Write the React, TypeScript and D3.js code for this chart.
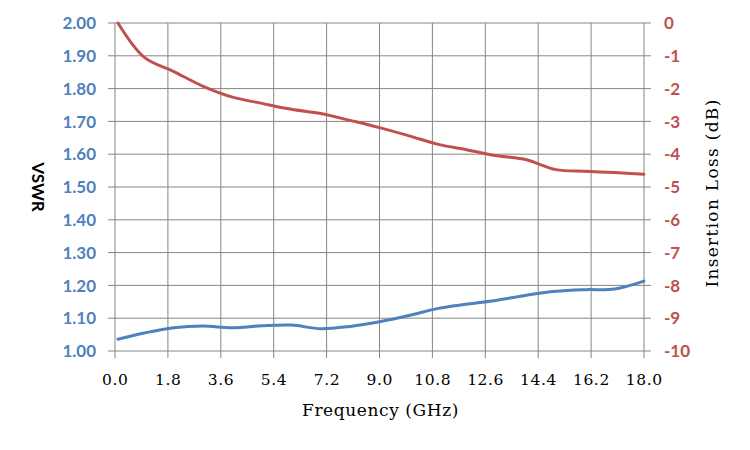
import React, { useEffect, useRef } from 'react';
import * as d3 from 'd3';

// frequency samples (GHz)
const freqs = [0.1, 1, 2, 3, 4, 5, 6, 7, 8, 9, 10, 11, 12, 13, 14, 15, 16, 17, 18];
const vswr = [1.036, 1.055, 1.071, 1.076, 1.071, 1.077, 1.079, 1.068, 1.075, 1.089, 1.108, 1.13, 1.143, 1.155, 1.17, 1.182, 1.187, 1.189, 1.213];
const insertionLoss = [0, -1.05, -1.48, -1.93, -2.26, -2.45, -2.63, -2.76, -2.97, -3.19, -3.44, -3.7, -3.87, -4.05, -4.17, -4.47, -4.52, -4.56, -4.61];

const xTicks = [0, 1.8, 3.6, 5.4, 7.2, 9.0, 10.8, 12.6, 14.4, 16.2, 18.0];
const vswrTicks = [1.0, 1.1, 1.2, 1.3, 1.4, 1.5, 1.6, 1.7, 1.8, 1.9, 2.0];
const lossTicks = [0, -1, -2, -3, -4, -5, -6, -7, -8, -9, -10];

const BLUE = '#4F81BD';
const RED = '#C0504D';
const GRID = '#868686';
const SERIF = '"DejaVu Serif", serif';
const BOLD = 'Lato, "Open Sans", sans-serif';

export default function App() {
  const svgRef = useRef<SVGSVGElement>(null);
  const width = 750;
  const height = 450;

  useEffect(() => {
    if (!svgRef.current) return;
    const svg = d3.select(svgRef.current);
    svg.selectAll('*').remove();

    const left = 115, right = 644, top = 23, bottom = 351;

    const x = d3.scaleLinear().domain([0, 18]).range([left, right]);
    const yL = d3.scaleLinear().domain([1, 2]).range([bottom, top]);
    const yR = d3.scaleLinear().domain([-10, 0]).range([bottom, top]);

    // grid
    svg.append('g')
      .selectAll('line')
      .data(xTicks)
      .enter()
      .append('line')
      .attr('x1', d => x(d))
      .attr('x2', d => x(d))
      .attr('y1', top)
      .attr('y2', bottom + 7)
      .attr('stroke', GRID)
      .attr('stroke-width', 1);

    svg.append('g')
      .selectAll('line')
      .data(vswrTicks)
      .enter()
      .append('line')
      .attr('x1', left - 7)
      .attr('x2', right + 7)
      .attr('y1', d => yL(d))
      .attr('y2', d => yL(d))
      .attr('stroke', GRID)
      .attr('stroke-width', 1);

    // tick labels
    svg.append('g')
      .selectAll('text')
      .data(xTicks)
      .enter()
      .append('text')
      .attr('x', d => x(d) + 0.3)
      .attr('y', 385)
      .attr('text-anchor', 'middle')
      .style('font-family', SERIF)
      .style('font-size', '15.5px')
      .style('letter-spacing', '0.6px')
      .attr('fill', '#000')
      .text(d => d.toFixed(1));

    svg.append('g')
      .selectAll('text')
      .data(vswrTicks)
      .enter()
      .append('text')
      .attr('x', 96)
      .attr('y', d => yL(d))
      .attr('dy', '0.36em')
      .attr('text-anchor', 'end')
      .style('font-family', BOLD)
      .style('font-weight', 'bold')
      .style('font-size', '17px')
      .attr('fill', BLUE)
      .text(d => d.toFixed(2));

    svg.append('g')
      .selectAll('text')
      .data(lossTicks)
      .enter()
      .append('text')
      .attr('x', 664)
      .attr('y', d => yR(d))
      .attr('dy', '0.36em')
      .attr('text-anchor', 'start')
      .style('font-family', BOLD)
      .style('font-weight', 'bold')
      .style('font-size', '17px')
      .attr('fill', RED)
      .text(d => String(d));

    // axis titles
    svg.append('text')
      .attr('x', (left + right) / 2 + 1)
      .attr('y', 416)
      .attr('text-anchor', 'middle')
      .style('font-family', SERIF)
      .style('font-size', '17px')
      .style('letter-spacing', '0.6px')
      .text('Frequency (GHz)');

    svg.append('text')
      .attr('transform', `translate(32,${(top + bottom) / 2}) rotate(90)`)
      .attr('text-anchor', 'middle')
      .style('font-family', BOLD)
      .style('font-weight', 'bold')
      .style('font-size', '17px')
      .text('VSWR');

    svg.append('text')
      .attr('transform', `translate(718,${(top + bottom) / 2 + 6}) rotate(-90)`)
      .attr('text-anchor', 'middle')
      .style('font-family', SERIF)
      .style('font-size', '17px')
      .style('letter-spacing', '1.3px')
      .text('Insertion Loss (dB)');

    // series
    const curve = d3.curveCatmullRom.alpha(0.5);

    const vswrLine = d3.line<number>()
      .x((_, i) => x(freqs[i]))
      .y(d => yL(d))
      .curve(curve);

    const lossLine = d3.line<number>()
      .x((_, i) => x(freqs[i]))
      .y(d => yR(d))
      .curve(curve);

    svg.append('path')
      .datum(vswr)
      .attr('d', vswrLine)
      .attr('fill', 'none')
      .attr('stroke', BLUE)
      .attr('stroke-width', 3)
      .attr('stroke-linecap', 'round');

    svg.append('path')
      .datum(insertionLoss)
      .attr('d', lossLine)
      .attr('fill', 'none')
      .attr('stroke', RED)
      .attr('stroke-width', 3)
      .attr('stroke-linecap', 'round');
  }, []);

  return (
    <svg
      ref={svgRef}
      width={width}
      height={height}
      style={{ position: 'absolute', left: 0, top: 0, background: '#fff' }}
    />
  );
}
